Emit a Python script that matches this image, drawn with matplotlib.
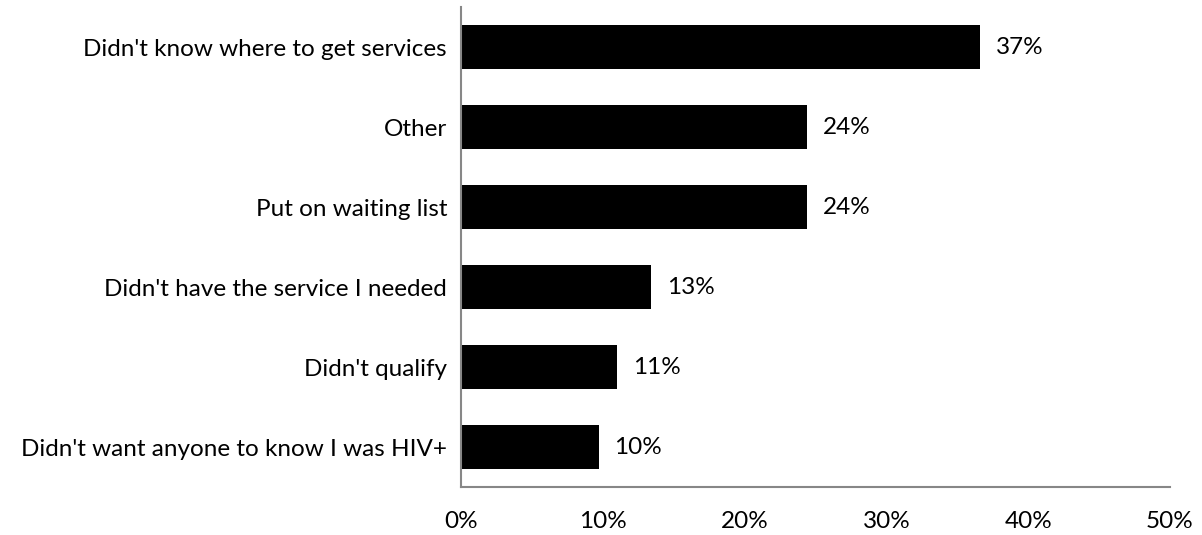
import matplotlib.pyplot as plt

reasons = [
    "Didn't know where to get services",
    "Other",
    "Put on waiting list",
    "Didn't have the service I needed",
    "Didn't qualify",
    "Didn't want anyone to know I was HIV+",
]
percent = [36.6, 24.4, 24.4, 13.4, 11.0, 9.7]
xticks = [0, 10, 20, 30, 40, 50]

plt.rcParams['font.family'] = ['Lato', 'DejaVu Sans']
fs = 17.5

fig = plt.figure(figsize=(12.02, 5.35), dpi=100)
ax = fig.add_axes([0.3835, 0.0897, 0.5899, 0.8972])

ypos = list(range(len(reasons)))[::-1]
ax.barh(ypos, percent, height=0.56, color='black')

for y, v in zip(ypos, percent):
    ax.text(v + 1.1, y, "{:.0f}%".format(v), va='center', ha='left', fontsize=fs)

ax.set_xlim(0, 50)
ax.set_ylim(-0.5, len(reasons) - 0.5)
ax.set_xticks(xticks)
ax.set_xticklabels(["{}%".format(t) for t in xticks], fontsize=fs)
ax.set_yticks(ypos)
ax.set_yticklabels(reasons, fontsize=fs)
ax.tick_params(axis='both', length=0)
ax.tick_params(axis='x', pad=17)
ax.tick_params(axis='y', pad=10)

for side in ['top', 'right']:
    ax.spines[side].set_visible(False)
for side in ['left', 'bottom']:
    ax.spines[side].set_color('#878787')
    ax.spines[side].set_linewidth(1.5)

fig.savefig("out.png", dpi=100)
